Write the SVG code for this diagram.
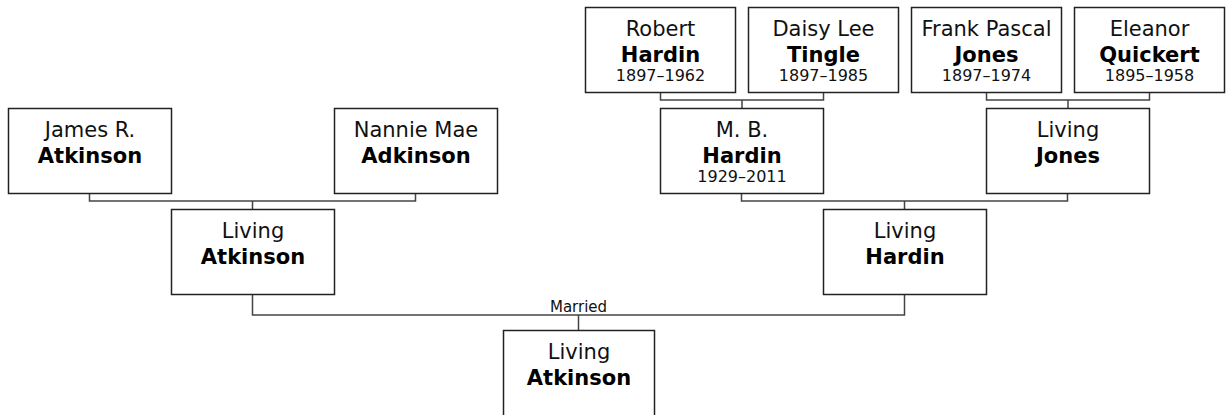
<svg xmlns="http://www.w3.org/2000/svg" width="1227" height="415" viewBox="0 0 1227 415">
<style>
  .box { fill: #fff; stroke: #222; stroke-width: 1.5; }
  .conn { fill: none; stroke: #444; stroke-width: 1.5; }
  text { font-family: "DejaVu Sans", Verdana, sans-serif; fill: #000; text-anchor: middle; }
  .given { font-size: 21px; fill: #111; }
  .sur { font-size: 21px; font-weight: bold; }
  .yr { font-size: 16px; fill: #111; }
  .lbl { font-size: 15px; fill: #111; }
</style>
<rect width="1227" height="415" fill="#fff"/>
<g id="connectors">
  <path class="conn" d="M660.5 92 V100 H823.5 V92 M742 100 V108"/>
  <path class="conn" d="M986.5 92 V100 H1149.5 V92 M1068 100 V108"/>
  <path class="conn" d="M89.5 194 V201 H415.5 V194 M252.5 201 V209"/>
  <path class="conn" d="M741.5 194 V201 H1067.5 V194 M904.5 201 V209"/>
  <path class="conn" d="M252.5 295 V315 H904.5 V295 M578.5 315 V330"/>
  <text class="lbl" x="578.5" y="311.5">Married</text>
</g>
<g id="robert-hardin">
  <rect class="box" x="585.5" y="7.5" width="150" height="85"/>
  <text class="given" x="660.5" y="36">Robert</text>
  <text class="sur" x="660.5" y="62">Hardin</text>
  <text class="yr" x="660.5" y="81">1897–1962</text>
</g>
<g id="daisy-lee-tingle">
  <rect class="box" x="748.5" y="7.5" width="150" height="85"/>
  <text class="given" x="823.5" y="36">Daisy Lee</text>
  <text class="sur" x="823.5" y="62">Tingle</text>
  <text class="yr" x="823.5" y="81">1897–1985</text>
</g>
<g id="frank-pascal-jones">
  <rect class="box" x="911.5" y="7.5" width="150" height="85"/>
  <text class="given" x="986.5" y="36">Frank Pascal</text>
  <text class="sur" x="986.5" y="62">Jones</text>
  <text class="yr" x="986.5" y="81">1897–1974</text>
</g>
<g id="eleanor-quickert">
  <rect class="box" x="1074.5" y="7.5" width="150" height="85"/>
  <text class="given" x="1149.5" y="36">Eleanor</text>
  <text class="sur" x="1149.5" y="62">Quickert</text>
  <text class="yr" x="1149.5" y="81">1895–1958</text>
</g>
<g id="james-atkinson">
  <rect class="box" x="8.5" y="108.5" width="163" height="85"/>
  <text class="given" x="90" y="137">James R.</text>
  <text class="sur" x="90" y="163">Atkinson</text>
</g>
<g id="nannie-mae-adkinson">
  <rect class="box" x="334.5" y="108.5" width="163" height="85"/>
  <text class="given" x="416" y="137">Nannie Mae</text>
  <text class="sur" x="416" y="163">Adkinson</text>
</g>
<g id="mb-hardin">
  <rect class="box" x="660.5" y="108.5" width="163" height="85"/>
  <text class="given" x="742" y="137">M. B.</text>
  <text class="sur" x="742" y="163">Hardin</text>
  <text class="yr" x="742" y="182">1929–2011</text>
</g>
<g id="living-jones">
  <rect class="box" x="986.5" y="108.5" width="163" height="85"/>
  <text class="given" x="1068" y="137">Living</text>
  <text class="sur" x="1068" y="163">Jones</text>
</g>
<g id="living-atkinson-parent">
  <rect class="box" x="171.5" y="209.5" width="163" height="85"/>
  <text class="given" x="253" y="238">Living</text>
  <text class="sur" x="253" y="264">Atkinson</text>
</g>
<g id="living-hardin">
  <rect class="box" x="823.5" y="209.5" width="163" height="85"/>
  <text class="given" x="905" y="238">Living</text>
  <text class="sur" x="905" y="264">Hardin</text>
</g>
<g id="living-atkinson-child">
  <rect class="box" x="503.5" y="330.5" width="151" height="100"/>
  <text class="given" x="579" y="359">Living</text>
  <text class="sur" x="579" y="385">Atkinson</text>
</g>
</svg>
